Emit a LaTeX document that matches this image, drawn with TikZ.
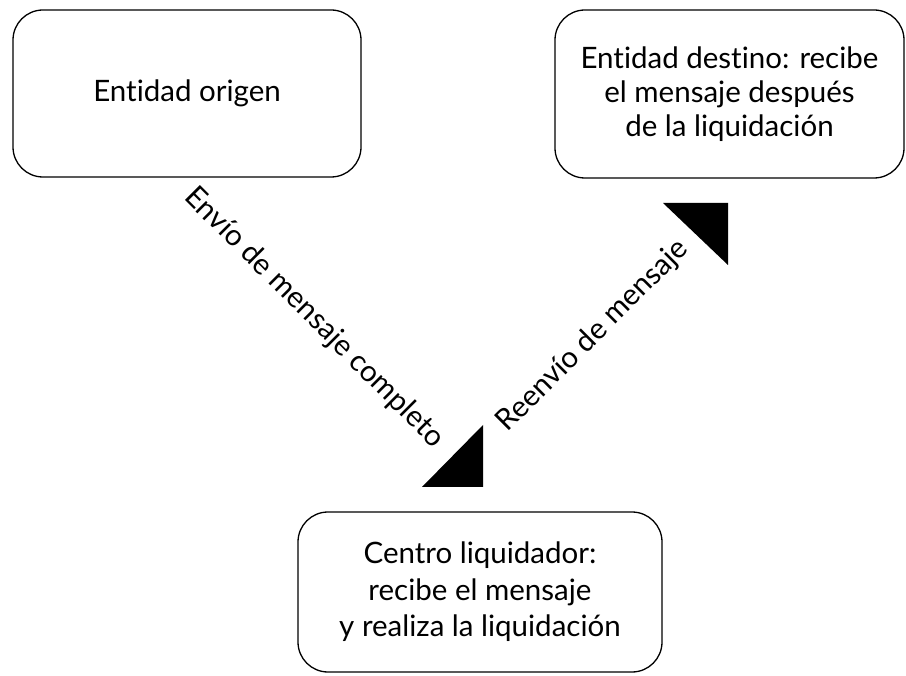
\documentclass[tikz,border=0pt]{standalone}
\usepackage{fontspec}
\setmainfont[Ligatures=NoCommon]{Lato}
\begin{document}
\begin{tikzpicture}[x=1pt,y=-1pt,
  box/.style={draw, line width=1.3pt, rounded corners=30pt, inner sep=0pt, align=center, font=\fontsize{29.5}{34}\selectfont},
  lbl/.style={inner sep=0pt, font=\fontsize{29.5}{34}\selectfont},
  head/.style={fill=black, draw=none}]
\useasboundingbox (0,0) rectangle (906,676);
\node[box, minimum width=348pt, minimum height=167pt] (orig) at (187,93.5) {Entidad origen};
\node[box, minimum width=349pt, minimum height=168pt] (dest) at (729.5,94) {Entidad destino: recibe\\el mensaje después\\de la liquidación};
\node[box, minimum width=364pt, minimum height=160pt, font=\fontsize{29.5}{36.5}\selectfont] (cent) at (480,592) {Centro liquidador:\\recibe el mensaje\\y realiza la liquidación};
\node[lbl, rotate=-45] (l1) at (314,318) {Envío de mensaje completo};
\node[lbl, rotate=45] (l2) at (593,336) {Reenvío de mensaje};
\fill[head] (422,487) -- (483,425) -- (483,487) -- cycle;
\fill[head] (663,203) -- (728,203) -- (728,265) -- cycle;
\end{tikzpicture}
\end{document}
